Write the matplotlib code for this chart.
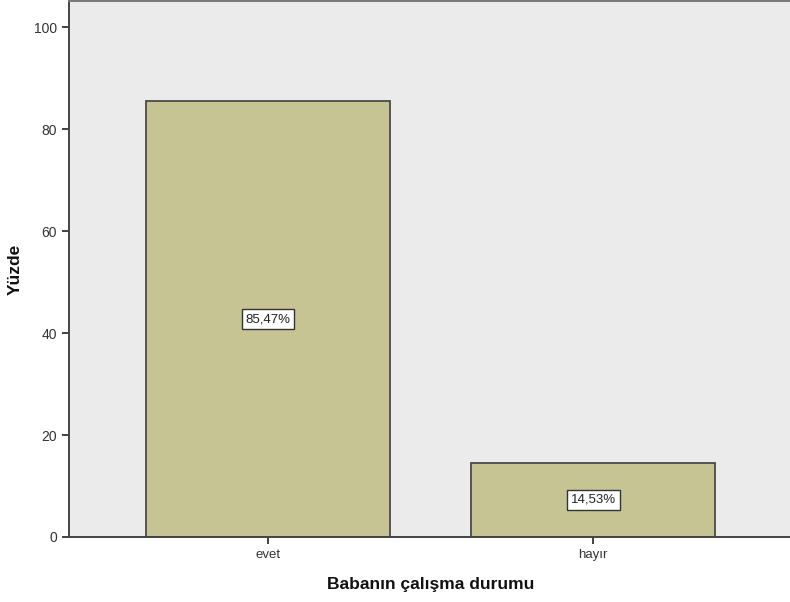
import matplotlib
matplotlib.use("Agg")
import matplotlib.pyplot as plt

categories = ["evet", "hayır"]
percents = [85.47, 14.53]
labels = ["85,47%", "14,53%"]
yticks = [0, 20, 40, 60, 80, 100]

plt.rcParams['font.family'] = ['Liberation Sans', 'DejaVu Sans']

fig = plt.figure(figsize=(7.9, 6.02), dpi=100)
ax = fig.add_axes([69 / 790, 65 / 602, 1 - 69 / 790 + 0.002, 536 / 602])
ax.set_facecolor('#EBEBEB')

x = range(len(categories))
bars = ax.bar(x, percents, width=0.75, color='#C7C494', edgecolor='#4A4A4A', linewidth=1.3)

for b, lab in zip(bars, labels):
    ax.text(b.get_x() + b.get_width() / 2, b.get_height() / 2, lab,
            ha='center', va='center', fontsize=9.5, color='#222222',
            bbox=dict(boxstyle='square,pad=0.3', fc='white', ec='#333333', lw=1.0))

ax.set_xlim(-0.612, 1.61)
ax.set_ylim(0, 105.1)
ax.set_xticks(list(x))
ax.set_xticklabels(categories, fontsize=9.5)
ax.set_yticks(yticks)
ax.tick_params(axis='y', labelsize=10, length=5, width=1.3, color='#333333', labelcolor='#333333')
ax.tick_params(axis='x', length=5, width=1.3, color='#333333', labelcolor='#333333')

for s in ['left', 'bottom']:
    ax.spines[s].set_color('#444444')
    ax.spines[s].set_linewidth(1.4)
ax.spines['top'].set_color('#777777')
ax.spines['top'].set_linewidth(1.4)
ax.spines['right'].set_visible(False)

ax.set_ylabel('Yüzde', fontsize=12.5, fontweight='bold', labelpad=8, color='#111111')
ax.set_xlabel('Babanın çalışma durumu', fontsize=12.5, fontweight='bold', labelpad=12, color='#111111')

fig.savefig('out.png', dpi=100)
